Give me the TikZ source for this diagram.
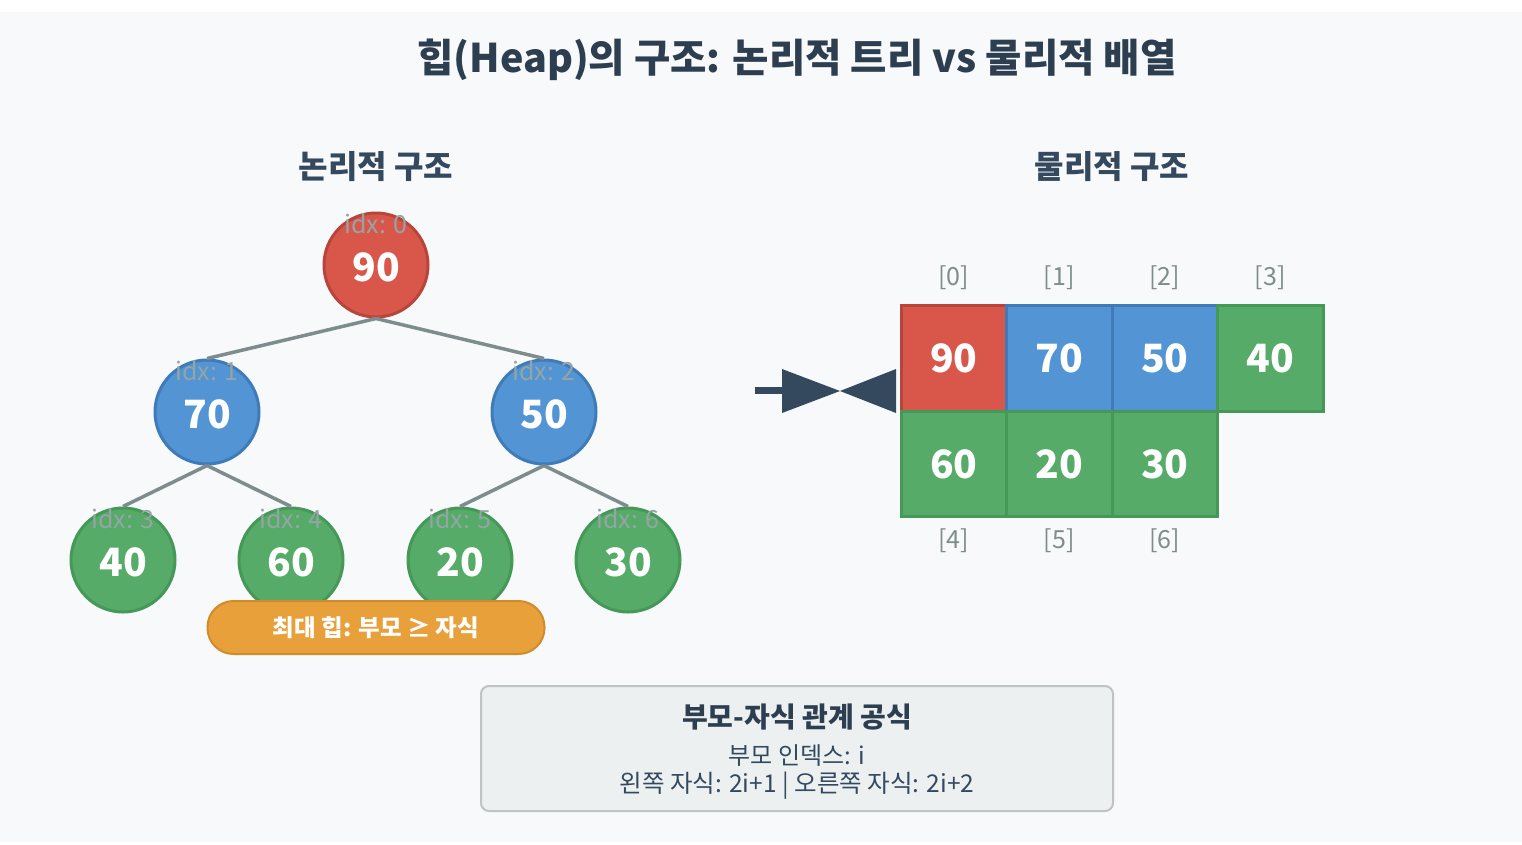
\documentclass[tikz,border=0pt]{standalone}
\usepackage{fontspec}
\setmainfont{Noto Sans CJK KR}
\usetikzlibrary{shapes.geometric}
\definecolor{bgc}{HTML}{F7F9FA}
\definecolor{titlec}{HTML}{2C3E50}
\definecolor{subc}{HTML}{34495E}
\definecolor{redf}{HTML}{D9574A}
\definecolor{redd}{HTML}{B8453A}
\definecolor{bluef}{HTML}{5294D4}
\definecolor{blued}{HTML}{3F7BB8}
\definecolor{greenf}{HTML}{55AB67}
\definecolor{greend}{HTML}{469858}
\definecolor{edgec}{HTML}{7F8C8D}
\definecolor{idxc}{HTML}{95A5A6}
\definecolor{orangef}{HTML}{E8A03A}
\definecolor{oranged}{HTML}{D18A2C}
\definecolor{boxf}{HTML}{ECF0F1}
\definecolor{boxd}{HTML}{BDC3C7}
\tikzset{
  numfont/.style={text=white, font=\fontsize{39}{42}\selectfont\bfseries},
  treenode/.style={circle, minimum size=104pt, inner sep=0pt, line width=3pt},
  rednode/.style={treenode, fill=redf, draw=redd},
  bluenode/.style={treenode, fill=bluef, draw=blued},
  greennode/.style={treenode, fill=greenf, draw=greend},
  idxlabel/.style={text=idxc, font=\fontsize{25}{28}\selectfont},
  tedge/.style={draw=edgec, line width=3.5pt},
  cell/.style={rectangle, minimum width=105.5pt, minimum height=105.5pt, inner sep=0pt, line width=3pt, numfont},
  redcell/.style={cell, fill=redf, draw=redd},
  bluecell/.style={cell, fill=bluef, draw=blued},
  greencell/.style={cell, fill=greenf, draw=greend},
  arrlabel/.style={text=edgec, font=\fontsize{25}{28}\selectfont},
  heading/.style={text=subc, font=\fontsize{32}{36}\selectfont\bfseries},
}
\begin{document}
\begin{tikzpicture}[x=1pt,y=-1pt]
\useasboundingbox (0,0) rectangle (1522,844);
\fill[white] (0,0) rectangle (1522,844);
\fill[bgc] (0,12) rectangle (1522,842);

\node[text=titlec, font=\fontsize{39.5}{44}\selectfont\bfseries] (title) at (797,60) {힙(Heap)의 구조: 논리적 트리 vs 물리적 배열};
\node[heading] (lh) at (376,167) {논리적 구조};
\node[heading] (rh) at (1112,167) {물리적 구조};

% tree nodes
\node[rednode] (n0) at (376,265) {};
\node[bluenode] (n1) at (207,412) {};
\node[bluenode] (n2) at (544,412) {};
\node[greennode] (n3) at (123,560) {};
\node[greennode] (n4) at (291,560) {};
\node[greennode] (n5) at (460,560) {};
\node[greennode] (n6) at (628,560) {};

% edges
\foreach \p/\c in {n0/n1,n0/n2,n1/n3,n1/n4,n2/n5,n2/n6}
  \draw[tedge] (\p.south) -- (\c.north);

\foreach \n/\v in {n0/90,n1/70,n2/50,n3/40,n4/60,n5/20,n6/30}
  \node[numfont] at ([yshift=-2pt]\n.center) {\v};

\node[idxlabel] (i0) at ([yshift=41pt]n0.center) {idx: 0};
\node[idxlabel] (i1) at ([yshift=41pt]n1.center) {idx: 1};
\node[idxlabel] (i2) at ([yshift=41pt]n2.center) {idx: 2};
\node[idxlabel] (i3) at ([yshift=41pt]n3.center) {idx: 3};
\node[idxlabel] (i4) at ([yshift=41pt]n4.center) {idx: 4};
\node[idxlabel] (i5) at ([yshift=41pt]n5.center) {idx: 5};
\node[idxlabel] (i6) at ([yshift=41pt]n6.center) {idx: 6};

% max heap pill
\node[rounded corners=26pt, fill=orangef, draw=oranged, line width=2pt, minimum width=337pt, minimum height=53pt, text=white, font=\fontsize{23.5}{27}\selectfont\bfseries] (pill) at (376,627.5) {최대 힙: 부모 ≥ 자식};

% arrow
\coordinate (a0) at (755,390.5);
\coordinate (a1) at (784,390.5);
\draw[subc, line width=7pt] (a0) -- (a1);
\fill[subc] (782,369) -- (840,391) -- (782,413) -- cycle;
\fill[subc] (896,369) -- (840,391) -- (896,413) -- cycle;

% array cells
\node[redcell] (c0) at (953.75,358.5) {90};
\node[bluecell] (c1) at (1059.25,358.5) {70};
\node[bluecell] (c2) at (1164.75,358.5) {50};
\node[greencell] (c3) at (1270.25,358.5) {40};
\node[greencell] (c4) at (953.75,464) {60};
\node[greencell] (c5) at (1059.25,464) {20};
\node[greencell] (c6) at (1164.75,464) {30};

\node[arrlabel] (l0) at (953.75,278) {[0]};
\node[arrlabel] (l1) at (1059.25,278) {[1]};
\node[arrlabel] (l2) at (1164.75,278) {[2]};
\node[arrlabel] (l3) at (1270.25,278) {[3]};
\node[arrlabel] (l4) at (953.75,541) {[4]};
\node[arrlabel] (l5) at (1059.25,541) {[5]};
\node[arrlabel] (l6) at (1164.75,541) {[6]};

% formula box
\node[rounded corners=8pt, fill=boxf, draw=boxd, line width=2pt, minimum width=632pt, minimum height=125pt] (fbox) at (797,748.5) {};
\node[text=titlec, font=\fontsize{28}{32}\selectfont\bfseries] (ft) at (797,717) {부모-자식 관계 공식};
\node[text=subc, font=\fontsize{24}{28}\selectfont] (f1) at (797,756) {부모 인덱스: i};
\node[text=subc, font=\fontsize{24.5}{28}\selectfont] (f2) at (797,786) {왼쪽 자식: 2i+1 | 오른쪽 자식: 2i+2};
\end{tikzpicture}
\end{document}
